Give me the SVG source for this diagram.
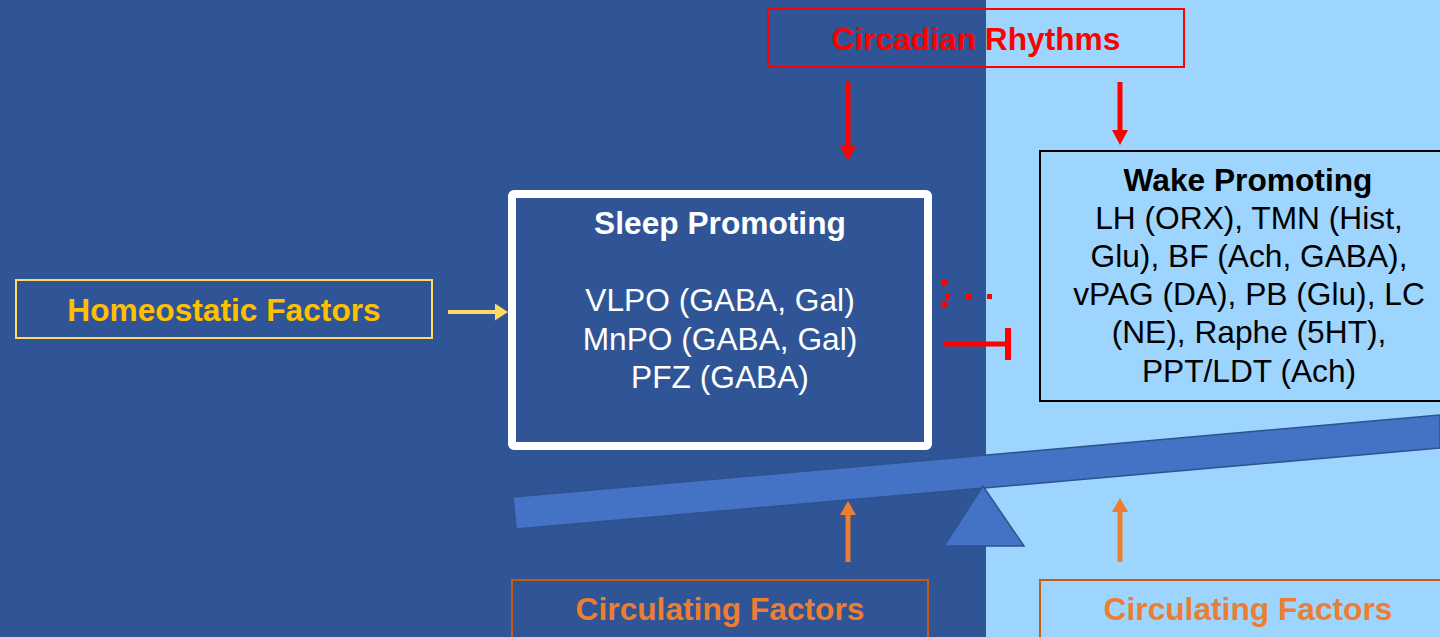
<svg xmlns="http://www.w3.org/2000/svg" width="1440" height="637" viewBox="0 0 1440 637">
  <style>
    .bold { font-family: "Liberation Sans", Arial, sans-serif; font-weight: bold; font-size: 31.7px; text-anchor: middle; }
    .reg { font-family: "Liberation Sans", Arial, sans-serif; font-size: 31.7px; text-anchor: middle; }
    .red-line { stroke: #FF0000; stroke-width: 5; fill: none; }
    .orange-line { stroke: #ED7D31; stroke-width: 5; fill: none; }
    .yellow-line { stroke: #FFD966; stroke-width: 4; fill: none; }
  </style>
  <defs>
    <marker id="head-red" viewBox="0 0 15 16" refX="5" refY="8" markerWidth="15" markerHeight="16" markerUnits="userSpaceOnUse" orient="auto">
      <path d="M0,0 L15,8 L0,16 z" fill="#FF0000"/>
    </marker>
    <marker id="head-orange" viewBox="0 0 14 16" refX="4" refY="8" markerWidth="14" markerHeight="16" markerUnits="userSpaceOnUse" orient="auto">
      <path d="M0,0 L14,8 L0,16 z" fill="#ED7D31"/>
    </marker>
    <marker id="head-yellow" viewBox="0 0 13 17" refX="3" refY="8.5" markerWidth="13" markerHeight="17" markerUnits="userSpaceOnUse" orient="auto">
      <path d="M0,0 L13,8.5 L0,17 z" fill="#FFD966"/>
    </marker>
  </defs>

  <!-- two background panels -->
  <rect x="0" y="0" width="986" height="637" fill="#2F5597"/>
  <rect x="986" y="0" width="454" height="637" fill="#9DD5FF"/>

  <!-- seesaw beam and fulcrum -->
  <g id="seesaw">
    <polygon points="513,497 1440,415 1440,448 516,529" fill="#4472C4" stroke="#2F528F" stroke-width="1.5"/>
    <polygon points="983,486 944,546 1024,546" fill="#4472C4" stroke="#2F528F" stroke-width="1.5"/>
  </g>

  <g id="circadian">
    <rect x="768" y="9" width="416" height="58" fill="none" stroke="#FF0000" stroke-width="2"/>
    <text class="bold" x="976" y="50" fill="#FF0000">Circadian Rhythms</text>
  </g>

  <g id="homeostatic">
    <rect x="16" y="280" width="416" height="58" fill="none" stroke="#FFD966" stroke-width="2"/>
    <text class="bold" x="224" y="321" fill="#FFC000">Homeostatic Factors</text>
  </g>

  <g id="sleep">
    <rect x="512" y="194" width="416" height="252" fill="none" stroke="#FFFFFF" stroke-width="8" rx="2"/>
    <text class="bold" x="720" y="234" fill="#FFFFFF">Sleep Promoting</text>
    <text class="reg" x="720" y="311" fill="#FFFFFF">VLPO (GABA, Gal)</text>
    <text class="reg" x="720" y="350" fill="#FFFFFF">MnPO (GABA, Gal)</text>
    <text class="reg" x="720" y="388" fill="#FFFFFF">PFZ (GABA)</text>
  </g>

  <g id="wake">
    <rect x="1040" y="151" width="420" height="250" fill="none" stroke="#000000" stroke-width="2"/>
    <text class="bold" x="1248" y="191" fill="#000000">Wake Promoting</text>
    <text class="reg" x="1249" y="229" fill="#000000">LH (ORX), TMN (Hist,</text>
    <text class="reg" x="1249" y="267" fill="#000000">Glu), BF (Ach, GABA),</text>
    <text class="reg" x="1249" y="305" fill="#000000">vPAG (DA), PB (Glu), LC</text>
    <text class="reg" x="1249" y="343" fill="#000000">(NE), Raphe (5HT),</text>
    <text class="reg" x="1249" y="382" fill="#000000">PPT/LDT (Ach)</text>
  </g>

  <g id="circulating-sleep">
    <rect x="512" y="580" width="416" height="80" fill="none" stroke="#C55A11" stroke-width="2"/>
    <text class="bold" x="720" y="620" fill="#ED7D31">Circulating Factors</text>
  </g>

  <g id="circulating-wake">
    <rect x="1040" y="580" width="420" height="80" fill="none" stroke="#C55A11" stroke-width="2"/>
    <text class="bold" x="1248" y="620" fill="#ED7D31">Circulating Factors</text>
  </g>

  <g id="connectors">
    <line class="red-line" x1="848" y1="82" x2="848" y2="151" marker-end="url(#head-red)"/>
    <line class="red-line" x1="1120" y1="82" x2="1120" y2="135" marker-end="url(#head-red)"/>
    <line class="yellow-line" x1="448" y1="312" x2="498" y2="312" marker-end="url(#head-yellow)"/>
    <line class="orange-line" x1="848" y1="562" x2="848" y2="511" marker-end="url(#head-orange)"/>
    <line class="orange-line" x1="1120" y1="562" x2="1120" y2="508" marker-end="url(#head-orange)"/>
    <!-- inhibition from sleep to wake -->
    <line class="red-line" x1="944" y1="344" x2="1006" y2="344"/>
    <rect x="1005" y="328" width="6" height="32" fill="#FF0000"/>
    <!-- dotted trace -->
    <g fill="#FF0000">
      <rect x="942" y="280" width="5" height="5"/>
      <rect x="945" y="294" width="5" height="5"/>
      <rect x="966" y="294" width="5" height="5"/>
      <rect x="987" y="294" width="5" height="5"/>
      <rect x="942" y="302" width="5" height="5"/>
    </g>
  </g>
</svg>
